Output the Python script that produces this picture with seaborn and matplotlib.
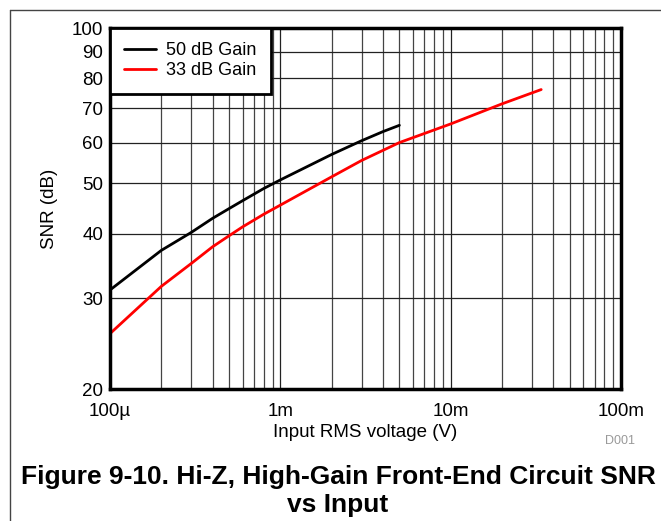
import numpy as np
import pandas as pd
import matplotlib
matplotlib.use("Agg")
import matplotlib.pyplot as plt
import matplotlib.ticker as mticker
from matplotlib.lines import Line2D
import seaborn as sns

# Data
x_50 = [1e-4, 2e-4, 3e-4, 4e-4, 5e-4, 6e-4, 8e-4, 1e-3, 2e-3, 3e-3, 4e-3, 5e-3]
snr_50 = [31.1, 37.1, 40.2, 42.8, 44.7, 46.3, 48.9, 50.8, 56.9, 60.5, 63.0, 64.8]
x_33 = [1e-4, 2e-4, 3e-4, 4e-4, 5e-4, 6e-4, 8e-4, 1e-3, 2e-3, 3e-3, 5e-3, 1e-2, 2e-2, 3.4e-2]
snr_33 = [25.6, 31.6, 35.0, 37.7, 39.6, 41.2, 43.6, 45.4, 51.5, 55.4, 60.0, 65.2, 71.3, 76.0]
series_names = ["50 dB Gain", "33 dB Gain"]
series_colors = ["#000000", "#ff0000"]
x_ticks = [1e-4, 1e-3, 1e-2, 1e-1]
x_ticklabels = ["100\u00b5", "1m", "10m", "100m"]
y_ticks = [20, 30, 40, 50, 60, 70, 80, 90, 100]

df = pd.concat([
    pd.DataFrame({"x": x_50, "y": snr_50, "series": series_names[0]}),
    pd.DataFrame({"x": x_33, "y": snr_33, "series": series_names[1]}),
])

sns.set_style("white")
plt.rcParams["font.family"] = ["Liberation Sans", "DejaVu Sans"]
plt.rcParams["text.color"] = "black"
plt.rcParams["axes.labelcolor"] = "black"
plt.rcParams["xtick.color"] = "black"
plt.rcParams["ytick.color"] = "black"

W, H = 661, 521
fig = plt.figure(figsize=(W / 100, H / 100), dpi=100)
ax = fig.add_axes([110 / W, 1 - 389 / H, (621 - 110) / W, (389 - 28) / H])

sns.lineplot(data=df, x="x", y="y", hue="series", palette=series_colors,
             hue_order=series_names, ax=ax, linewidth=2, estimator=None, sort=True)

ax.set_xscale("log")
ax.set_yscale("log")
ax.set_xlim(1e-4, 1e-1)
ax.set_ylim(20, 100)

ax.xaxis.set_major_locator(mticker.FixedLocator(x_ticks))
ax.xaxis.set_major_formatter(mticker.FixedFormatter(x_ticklabels))
ax.xaxis.set_minor_locator(mticker.LogLocator(base=10, subs=np.arange(2, 10)))
ax.xaxis.set_minor_formatter(mticker.NullFormatter())
ax.yaxis.set_major_locator(mticker.FixedLocator(y_ticks))
ax.yaxis.set_major_formatter(mticker.FixedFormatter([str(v) for v in y_ticks]))
ax.yaxis.set_minor_locator(mticker.NullLocator())

ax.grid(True, which="major", axis="both", color="#222222", linewidth=0.9)
ax.grid(True, which="minor", axis="x", color="#444444", linewidth=0.9)
ax.tick_params(axis="both", which="both", length=0, labelsize=13.5, colors="black")
ax.tick_params(axis="x", pad=10)
ax.tick_params(axis="y", pad=5)

for s in ax.spines.values():
    s.set_visible(True)
    s.set_color("black")
    s.set_linewidth(2.5)

ax.set_xlabel("Input RMS voltage (V)", fontsize=13.5, labelpad=3)
ax.set_ylabel("SNR (dB)", fontsize=13.5, labelpad=10)

leg = ax.legend(loc="upper left", fontsize=13, frameon=True, fancybox=False,
                borderaxespad=0, handlelength=1.75, borderpad=0.8,
                labelspacing=0.15, handletextpad=0.55)
leg.get_frame().set_edgecolor("black")
leg.get_frame().set_linewidth(2)
leg.get_frame().set_alpha(1)
for line in leg.get_lines():
    line.set_linewidth(2)

fig.text(620 / W, 1 - 441 / H, "D001", fontsize=9, color="#999999", ha="center", va="center")
fig.text(338 / W, 1 - 477 / H, "Figure 9-10. Hi-Z, High-Gain Front-End Circuit SNR",
         fontsize=19, fontweight="bold", ha="center", va="center")
fig.text(338 / W, 1 - 505 / H, "vs Input",
         fontsize=19, fontweight="bold", ha="center", va="center")

fig.add_artist(Line2D([9.5 / W, 9.5 / W], [0, 1 - 9.5 / H], color="#444444", linewidth=1))
fig.add_artist(Line2D([9.5 / W, 1], [1 - 9.5 / H, 1 - 9.5 / H], color="#444444", linewidth=1))

fig.savefig("out.png", dpi=100)
